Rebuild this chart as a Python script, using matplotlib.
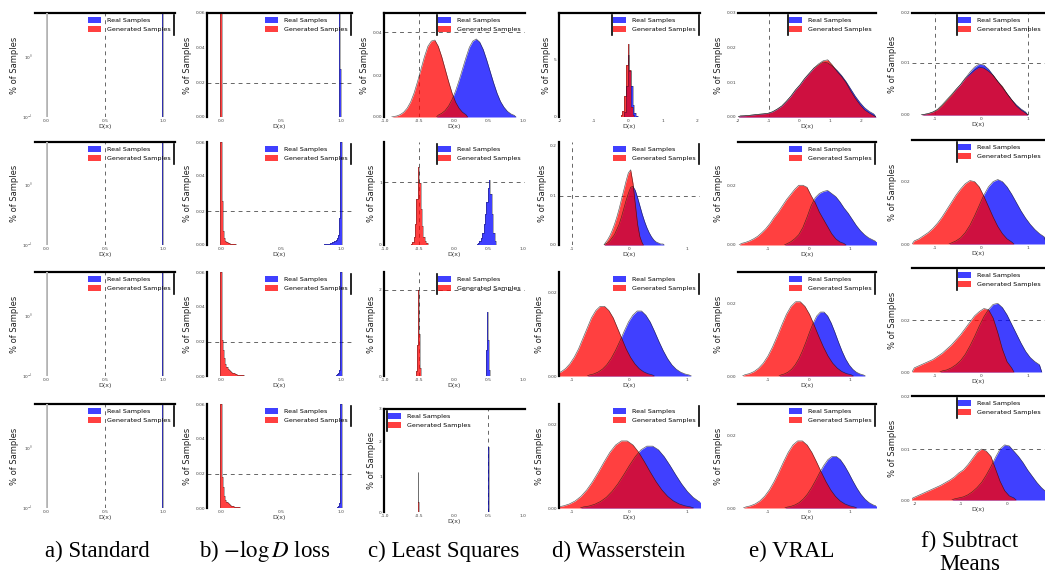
import matplotlib
matplotlib.use("Agg")
import matplotlib.pyplot as plt
from matplotlib.patches import Patch
from matplotlib.lines import Line2D
import numpy as np

plt.rcParams['font.family'] = ['DejaVu Sans']
plt.rcParams['mathtext.fontset'] = 'stix'

# ---------------- DATA (histograms: (first bin left edge, bin width, heights as share of axis height)) ----
captions = ["a) Standard", "b) $-\\log D$ loss", "c) Least Squares", "d) Wasserstein", "e) VRAL", "f) Subtract\nMeans"]
legend_labels = ["Real Samples", "Generated Samples"]

# a) Standard
a_real = (0.985, 0.012, [1.0])
a_gen = (-0.001, 0.002, [1.0])

# b) -log D
b1_real = (0.985, 0.008, [1.0, 0.46])
b1_gen = (-0.006, 0.012, [1.0])
b2_real = (0.855, 0.01, [0.005, 0.006, 0.008, 0.01, 0.012, 0.015, 0.02, 0.025, 0.03, 0.04, 0.05, 0.07, 0.1, 0.26, 1.0])
b2_gen = (-0.005, 0.01, [1.0, 0.43, 0.14, 0.07, 0.04, 0.03, 0.02, 0.015, 0.01, 0.01, 0.008, 0.006, 0.005, 0.004, 0.003, 0.002])
b3_real = (0.955, 0.01, [0.01, 0.015, 0.03, 0.06, 1.0])
b3_gen = (-0.005, 0.01, [1.0, 0.35, 0.25, 0.17, 0.12, 0.09, 0.07, 0.055, 0.045, 0.035, 0.03, 0.025, 0.02, 0.017, 0.014, 0.012, 0.01, 0.008, 0.006, 0.005, 0.004, 0.003])
b4_real = (0.965, 0.01, [0.01, 0.02, 0.05, 1.0])
b4_gen = (-0.005, 0.01, [1.0, 0.3, 0.2, 0.12, 0.08, 0.06, 0.045, 0.035, 0.028, 0.022, 0.018, 0.014, 0.011, 0.009, 0.007, 0.005, 0.004, 0.003])

# c) Least squares
c1_real = (-0.25, 0.05, [0.018, 0.035, 0.062, 0.106, 0.168, 0.25, 0.35, 0.46, 0.57, 0.67, 0.73, 0.75, 0.72, 0.65, 0.55, 0.44, 0.33, 0.23, 0.15, 0.095, 0.055, 0.03, 0.016])
c1_gen = (-0.9, 0.05, [0.004, 0.010, 0.023, 0.046, 0.085, 0.144, 0.23, 0.34, 0.46, 0.58, 0.68, 0.73, 0.74, 0.68, 0.58, 0.46, 0.34, 0.23, 0.144, 0.085, 0.046, 0.023])
c2_real = (0.33, 0.02, [0.01, 0.02, 0.04, 0.07, 0.12, 0.2, 0.3, 0.42, 0.55, 0.63, 0.5, 0.3, 0.12, 0.04])
c2_gen = (-0.62, 0.02, [0.01, 0.03, 0.08, 0.2, 0.45, 0.76, 0.6, 0.35, 0.18, 0.08, 0.04, 0.02])
c3_real = (0.46, 0.012, [0.05, 0.25, 0.62, 0.35, 0.06])
c3_gen = (-0.54, 0.012, [0.05, 0.3, 0.83, 0.4, 0.08])
c4_real = (0.49, 0.012, [0.63, 0.2])
c4_gen = (-0.515, 0.004, [0.39, 0.1, 0.1, 0.06])

# d) Wasserstein
d1_real = (-0.125, 0.05, [0.05, 0.3, 0.6, 0.44, 0.3, 0.12, 0.04, 0.01])
d1_gen = (-0.225, 0.05, [0.02, 0.06, 0.2, 0.5, 0.7, 0.45, 0.1, 0.02])
d2_real = (-0.44, 0.04, [0.01, 0.02, 0.04, 0.07, 0.1, 0.15, 0.2, 0.27, 0.35, 0.43, 0.5, 0.56, 0.57, 0.53, 0.46, 0.38, 0.3, 0.23, 0.17, 0.12, 0.08, 0.05, 0.03, 0.02, 0.01, 0.01])
d2_gen = (-0.44, 0.04, [0.02, 0.05, 0.09, 0.14, 0.2, 0.27, 0.35, 0.44, 0.53, 0.62, 0.7, 0.73, 0.6, 0.4, 0.2, 0.08, 0.02])
d3_real = (-0.73, 0.075, [0.01, 0.02, 0.038, 0.066, 0.108, 0.168, 0.245, 0.334, 0.43, 0.52, 0.585, 0.625, 0.625, 0.585, 0.52, 0.43, 0.334, 0.245, 0.168, 0.108, 0.066, 0.038, 0.02, 0.01])
d3_gen = (-1.37, 0.075, [0.011, 0.022, 0.041, 0.071, 0.117, 0.18, 0.26, 0.36, 0.46, 0.56, 0.63, 0.67, 0.67, 0.63, 0.56, 0.46, 0.36, 0.26, 0.18, 0.117, 0.071, 0.041, 0.022, 0.011])
d4_real = (-0.85, 0.1, [0.01, 0.019, 0.036, 0.063, 0.103, 0.16, 0.233, 0.319, 0.41, 0.494, 0.56, 0.595, 0.595, 0.56, 0.494, 0.41, 0.319, 0.233, 0.16, 0.103, 0.063, 0.036, 0.019, 0.01])
d4_gen = (-1.29, 0.1, [0.01, 0.021, 0.039, 0.068, 0.112, 0.174, 0.253, 0.345, 0.443, 0.535, 0.606, 0.645, 0.645, 0.606, 0.535, 0.443, 0.345, 0.253, 0.174, 0.112, 0.068, 0.039, 0.021, 0.01])

# e) VRAL
e1_real = (-2.0, 0.15, [0.01, 0.012, 0.016, 0.021, 0.026, 0.03, 0.035, 0.05, 0.075, 0.105, 0.15, 0.2, 0.26, 0.31, 0.37, 0.42, 0.47, 0.5, 0.53, 0.52, 0.49, 0.45, 0.4, 0.34, 0.27, 0.2, 0.14, 0.09, 0.055, 0.03])
e1_gen = (-2.0, 0.15, [0.01, 0.012, 0.016, 0.021, 0.026, 0.03, 0.035, 0.05, 0.075, 0.105, 0.15, 0.2, 0.26, 0.31, 0.37, 0.42, 0.47, 0.51, 0.54, 0.55, 0.5, 0.44, 0.39, 0.33, 0.25, 0.18, 0.12, 0.07, 0.04, 0.015])
e2_real = (-0.6, 0.1, [0.01, 0.03, 0.06, 0.1, 0.17, 0.27, 0.38, 0.46, 0.5, 0.52, 0.53, 0.5, 0.47, 0.42, 0.36, 0.31, 0.25, 0.19, 0.14, 0.1, 0.07, 0.05, 0.03])
e2_gen = (-1.7, 0.1, [0.015, 0.025, 0.04, 0.06, 0.085, 0.12, 0.16, 0.21, 0.27, 0.32, 0.38, 0.44, 0.49, 0.54, 0.58, 0.58, 0.56, 0.48, 0.41, 0.32, 0.25, 0.18, 0.11, 0.06, 0.03, 0.015])
e3_real = (-0.73, 0.0875, [0.01, 0.02, 0.037, 0.065, 0.107, 0.165, 0.241, 0.329, 0.423, 0.51, 0.578, 0.615, 0.615, 0.578, 0.51, 0.423, 0.329, 0.241, 0.165, 0.107, 0.065, 0.037, 0.02, 0.01])
e3_gen = (-1.62, 0.1125, [0.012, 0.023, 0.043, 0.076, 0.124, 0.192, 0.28, 0.382, 0.49, 0.593, 0.67, 0.714, 0.714, 0.67, 0.593, 0.49, 0.382, 0.28, 0.192, 0.124, 0.076, 0.043, 0.023, 0.012])
e4_real = (-0.59, 0.1, [0.008, 0.016, 0.03, 0.052, 0.086, 0.133, 0.194, 0.265, 0.341, 0.41, 0.466, 0.496, 0.496, 0.466, 0.41, 0.341, 0.265, 0.194, 0.133, 0.086, 0.052, 0.03, 0.016, 0.008])
e4_gen = (-1.6, 0.115, [0.01, 0.021, 0.039, 0.068, 0.112, 0.174, 0.253, 0.345, 0.443, 0.535, 0.606, 0.645, 0.645, 0.606, 0.535, 0.443, 0.345, 0.253, 0.174, 0.112, 0.068, 0.039, 0.021, 0.01])

# f) Subtract means
f1_real = (-1.3, 0.1, [0.005, 0.012, 0.028, 0.05, 0.09, 0.14, 0.19, 0.25, 0.3, 0.36, 0.42, 0.47, 0.5, 0.49, 0.45, 0.39, 0.33, 0.27, 0.21, 0.15, 0.1, 0.06, 0.03])
f1_gen = (-1.3, 0.1, [0.005, 0.015, 0.03, 0.055, 0.1, 0.15, 0.2, 0.25, 0.3, 0.36, 0.4, 0.44, 0.47, 0.46, 0.43, 0.39, 0.33, 0.28, 0.21, 0.15, 0.09, 0.05, 0.02])
f2_real = (-0.7, 0.1, [0.01, 0.03, 0.06, 0.11, 0.18, 0.27, 0.37, 0.47, 0.55, 0.6, 0.62, 0.6, 0.55, 0.48, 0.4, 0.32, 0.25, 0.19, 0.14, 0.1, 0.07])
f2_gen = (-1.5, 0.1, [0.03, 0.05, 0.08, 0.11, 0.15, 0.2, 0.26, 0.33, 0.4, 0.47, 0.53, 0.58, 0.61, 0.6, 0.55, 0.46, 0.36, 0.26, 0.17, 0.1, 0.05, 0.02])
f3_real = (-0.9, 0.1, [0.01, 0.02, 0.04, 0.07, 0.11, 0.17, 0.25, 0.34, 0.44, 0.53, 0.6, 0.65, 0.66, 0.62, 0.55, 0.46, 0.37, 0.28, 0.2, 0.14, 0.1, 0.07])
f3_gen = (-1.5, 0.1, [0.04, 0.06, 0.08, 0.1, 0.12, 0.15, 0.18, 0.22, 0.26, 0.31, 0.36, 0.42, 0.48, 0.54, 0.58, 0.61, 0.6, 0.52, 0.38, 0.22, 0.1, 0.04])
f4_real = (-1.2, 0.1, [0.01, 0.02, 0.03, 0.05, 0.08, 0.12, 0.17, 0.24, 0.32, 0.41, 0.49, 0.53, 0.52, 0.47, 0.42, 0.36, 0.29, 0.23, 0.17, 0.12, 0.08])
f4_gen = (-2.1, 0.1, [0.02, 0.04, 0.06, 0.08, 0.1, 0.12, 0.14, 0.165, 0.19, 0.22, 0.26, 0.29, 0.34, 0.4, 0.46, 0.49, 0.47, 0.42, 0.3, 0.18, 0.09, 0.04, 0.02])

# ---------------- STYLE / LAYOUT ----------------
W, H = 1045, 576
BLUE = '#0000ff'
RED = '#ff0000'
GRID = '#666666'

fig = plt.figure(figsize=(W / 100, H / 100), dpi=100)

col_x = {'a': (35, 175), 'b': (207, 352), 'c': (384, 525), 'd': (559, 700), 'e': (738, 876), 'f': (912, 1045)}
row_y = [(13, 117), (142, 245), (272, 376), (404, 508)]
row_y_f = [(13, 115), (140, 244), (268, 372), (396, 500)]


def make_ax(col, row, yr=None):
    x0, x1 = col_x[col]
    if yr is None:
        yr = row_y_f[row] if col == 'f' else row_y[row]
    y0, y1 = yr
    return fig.add_axes([x0 / W, 1 - y1 / H, (x1 - x0) / W, (y1 - y0) / H])


def draw_hist(ax, spec, color, smooth):
    start, width, heights = spec
    heights = np.asarray(heights, dtype=float)
    n = len(heights)
    if smooth:
        centers = start + width * (np.arange(n) + 0.5)
        xs = np.concatenate([[start], centers, [start + width * n]])
        ys = np.concatenate([[0], heights, [0]])
        ax.fill_between(xs, ys, color=color, alpha=0.75, lw=0, zorder=2)
        ax.plot(xs, ys, color='#111111', lw=0.45, alpha=0.7, zorder=3)
    else:
        edges = start + width * np.arange(n + 1)
        ax.stairs(heights, edges, fill=True, color=color, alpha=0.75, lw=0, zorder=2)
        ax.stairs(heights, edges, color='#111111', lw=0.4, alpha=0.6, zorder=3)


legend_bars = []


def panel(col, row, real, gen, xlim, xticks, xticklabels, yticks, yticklabels,
          vlines=(), hlines=(), solid_vlines=(), top=True, left=False, xlabel='D(x)',
          loc='upper right', bar='right', yr=None, smooth=False):
    ax = make_ax(col, row, yr)
    ax.set_xlim(*xlim)
    ax.set_ylim(0, 1)
    draw_hist(ax, real, BLUE, smooth)
    draw_hist(ax, gen, RED, smooth)
    for v in solid_vlines:
        ax.axvline(v, color='#bbbbbb', lw=1.3, zorder=4)
    for v in vlines:
        ax.axvline(v, color=GRID, lw=0.7, ls=(0, (4, 4)), zorder=1.5)
    for h in hlines:
        ax.axhline(h, color=GRID, lw=0.7, ls=(0, (4, 4)), zorder=1.5)
    ax.set_xticks(xticks)
    ax.set_xticklabels(xticklabels)
    ax.set_yticks(yticks)
    ax.set_yticklabels(yticklabels)
    ax.tick_params(length=0, labelsize=3.2, labelcolor='#444444', pad=1.5)
    for s in ('right', 'bottom'):
        ax.spines[s].set_visible(False)
    ax.spines['top'].set_visible(top)
    ax.spines['top'].set_linewidth(1.6)
    ax.spines['left'].set_visible(left)
    ax.spines['left'].set_linewidth(1.6)
    ax.set_xlabel(xlabel, fontsize=4.5, labelpad=1, color='#333333')
    ax.set_ylabel('% of Samples', fontsize=6, labelpad=2.5, color='#222222')
    handles = [Patch(facecolor=BLUE, alpha=0.75, edgecolor='none'),
               Patch(facecolor=RED, alpha=0.75, edgecolor='none')]
    leg = ax.legend(handles, legend_labels, loc=loc, fontsize=4.6, frameon=False,
                    handlelength=2.0, handleheight=0.9, borderaxespad=0.3,
                    labelspacing=0.45, handletextpad=0.9)
    leg.set_zorder(10)
    legend_bars.append((ax, leg, bar))
    return ax


a_ticks = ([0, 0.5, 1.0], ['0.0', '0.5', '1.0'])
b_ticks = ([0, 0.5, 1.0], ['0.0', '0.5', '1.0'])
c_ticks = ([-1, -0.5, 0, 0.5, 1], ['-1.0', '-0.5', '0.0', '0.5', '1.0'])

# column a
for r in range(4):
    panel('a', r, a_real, a_gen, (-0.1, 1.1), *a_ticks, [0, 0.58], ['10$^{-1}$', '10$^{0}$'],
          vlines=[0.5], solid_vlines=[0.0], top=True, left=False, bar='right')

# column b
b_data = [(b1_real, b1_gen), (b2_real, b2_gen), (b3_real, b3_gen), (b4_real, b4_gen)]
for r, (re, ge) in enumerate(b_data):
    panel('b', r, re, ge, (-0.117, 1.092), *b_ticks, [0, 0.33, 0.67, 1.0], ['0.00', '0.02', '0.04', '0.06'],
          hlines=[0.33], top=(r == 0), left=True, bar='right')

# column c
panel('c', 0, c1_real, c1_gen, (-1.01, 1.03), *c_ticks, [0, 0.4, 0.815], ['0.00', '0.02', '0.04'],
      vlines=[-0.5], hlines=[0.815], top=True, left=True, bar='left', smooth=True)
panel('c', 1, c2_real, c2_gen, (-1.01, 1.03), *c_ticks, [0, 0.61], ['0', '1'],
      vlines=[-0.5], hlines=[0.61], top=False, left=True, bar='left')
panel('c', 2, c3_real, c3_gen, (-1.01, 1.03), *c_ticks, [0, 0.83], ['0', '2'],
      vlines=[-0.5], hlines=[0.83], top=False, left=True, bar='left')
panel('c', 3, c4_real, c4_gen, (-1.01, 1.03), *c_ticks, [0, 0.34, 0.68, 1.0], ['0', '1', '2', '3'],
      vlines=[0.5], top=True, left=True, loc='upper left', bar='left', yr=(409, 512))

# column d
panel('d', 0, d1_real, d1_gen, (-2.03, 2.09), [-2, -1, 0, 1, 2], ['-2', '-1', '0', '1', '2'],
      [0, 0.55], ['0', '5'], top=True, left=True, bar='both')
panel('d', 1, d2_real, d2_gen, (-1.22, 1.22), [-1, 0, 1], ['-1', '0', '1'],
      [0, 0.48, 0.97], ['0.0', '0.1', '0.2'], vlines=[-1], hlines=[0.48], top=False, left=True, bar='right', smooth=True)
panel('d', 2, d3_real, d3_gen, (-1.22, 1.22), [-1, 0, 1], ['-1', '0', '1'],
      [0, 0.8], ['0.00', '0.02'], top=False, left=True, bar='right', smooth=True)
panel('d', 3, d4_real, d4_gen, (-1.22, 1.22), [-1, 0, 1], ['-1', '0', '1'],
      [0, 0.8], ['0.00', '0.02'], top=False, left=True, bar='right', smooth=True)

# column e
panel('e', 0, e1_real, e1_gen, (-2.0, 2.5), [-2, -1, 0, 1, 2], ['-2', '-1', '0', '1', '2'],
      [0, 0.33, 0.67, 1.0], ['0.00', '0.01', '0.02', '0.03'], vlines=[-1], top=True, left=False, bar='left', smooth=True)
panel('e', 1, e2_real, e2_gen, (-1.73, 1.63), [-1, 0, 1], ['-1', '0', '1'],
      [0, 0.58], ['0.00', '0.02'], top=True, left=False, bar='right', smooth=True)
panel('e', 2, e3_real, e3_gen, (-1.73, 1.63), [-1, 0, 1], ['-1', '0', '1'],
      [0, 0.7], ['0.00', '0.02'], top=True, left=False, bar='right', smooth=True)
panel('e', 3, e4_real, e4_gen, (-1.73, 1.63), [-1, 0, 1], ['-1', '0', '1'],
      [0, 0.7], ['0.00', '0.02'], top=True, left=False, bar='right', smooth=True)

# column f
panel('f', 0, f1_real, f1_gen, (-1.5, 1.37), [-1, 0, 1], ['-1', '0', '1'],
      [0, 0.51, 1.0], ['0.00', '0.01', '0.02'], vlines=[-1, 1], hlines=[0.51], top=True, left=False, bar='left', smooth=True)
panel('f', 1, f2_real, f2_gen, (-1.5, 1.37), [-1, 0, 1], ['-1', '0', '1'],
      [0, 0.6], ['0.00', '0.02'], top=True, left=False, bar='left', smooth=True)
panel('f', 2, f3_real, f3_gen, (-1.5, 1.37), [-1, 0, 1], ['-1', '0', '1'],
      [0, 0.5], ['0.00', '0.02'], hlines=[0.5], top=True, left=False, bar='left', smooth=True)
panel('f', 3, f4_real, f4_gen, (-2.07, 0.83), [-2, -1, 0], ['-2', '-1', '0'],
      [0, 0.49, 1.0], ['0.00', '0.01', '0.02'], hlines=[0.49], top=True, left=False, bar='left', smooth=True)

# captions
cap_x = [97, 265, 444, 619, 792, 970]
for i, (cx, txt) in enumerate(zip(cap_x, captions)):
    y = 551 if i < 5 else 553
    fig.text(cx / W, 1 - y / H, txt, ha='center', va='center', fontsize=16.5,
             family='Liberation Serif', linespacing=1.15)

# little vertical bars next to legends (as in the reference rendering)
fig.canvas.draw()
renderer = fig.canvas.get_renderer()
for ax, leg, side in legend_bars:
    bb = leg.get_window_extent(renderer)
    xs = []
    if side in ('left', 'both'):
        xs.append(bb.x0 + 1)
    if side in ('right', 'both'):
        xs.append(bb.x1 + 1)
    for xp in xs:
        fig.add_artist(Line2D([xp / W, xp / W], [bb.y0 / H, bb.y1 / H], color='black', lw=1.2))

fig.savefig('out.png', dpi=100)
